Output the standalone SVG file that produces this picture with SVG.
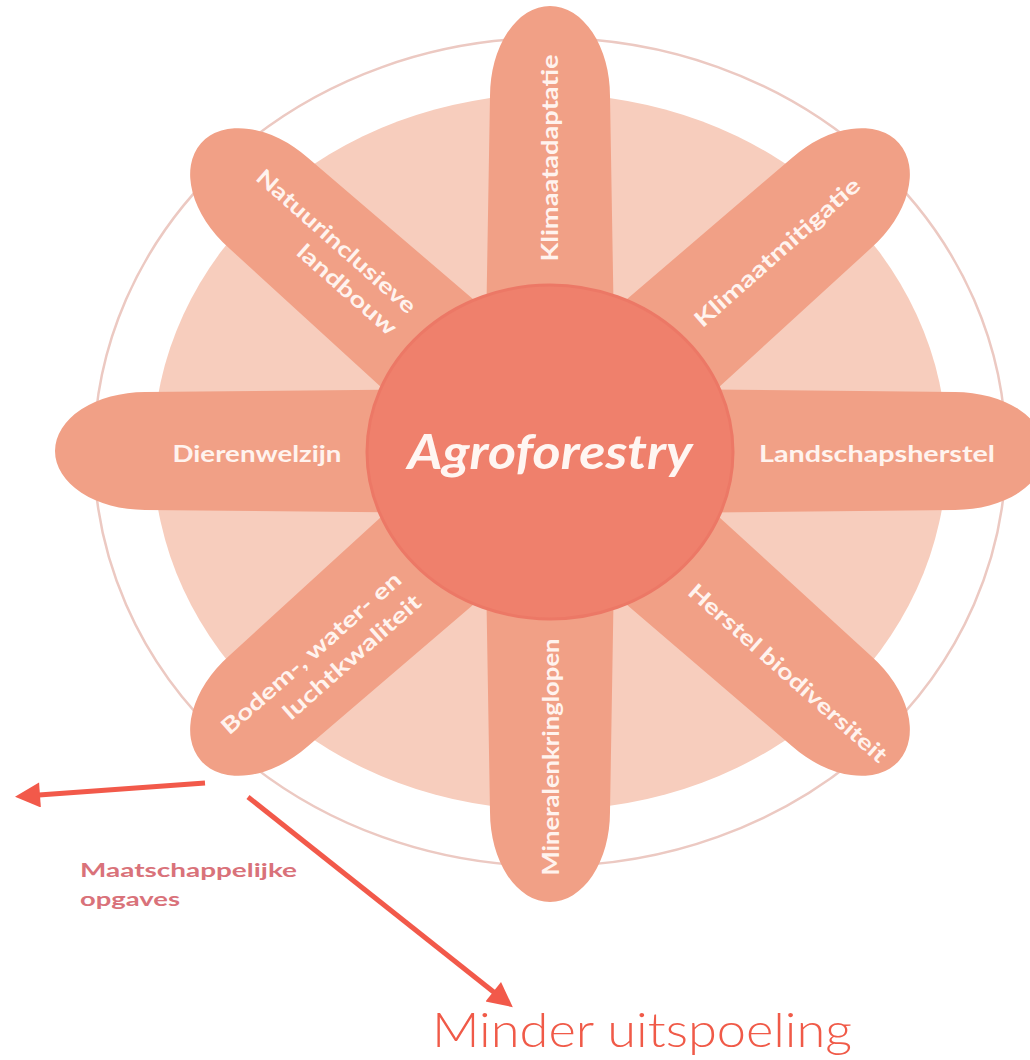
<svg xmlns="http://www.w3.org/2000/svg" width="1030" height="1060" viewBox="0 0 1030 1060">
<style>
.petal{fill:#f1a086}
.lbl{font-family:Lato,"Liberation Sans",sans-serif;font-weight:700;font-size:22px;fill:#fff3ee;text-anchor:middle}
.lbl2{font-family:Lato,"Liberation Sans",sans-serif;font-weight:700;font-size:22px;fill:#fff3ee;text-anchor:end}
.arrow{stroke:#f2594a;stroke-width:5;fill:none;marker-end:url(#ah)}
</style>
<defs>
<marker id="ah" viewBox="0 0 10 10" refX="6" refY="5" markerWidth="5.5" markerHeight="5" orient="auto" markerUnits="strokeWidth">
<path d="M0,0 L10,5 L0,10 z" fill="#f2594a"/>
</marker>
</defs>
<rect width="1030" height="1060" fill="#ffffff"/>
<g id="background">
<ellipse cx="550" cy="452" rx="456" ry="414" fill="none" stroke="#ecc9c2" stroke-width="2.5"/>
<ellipse cx="550" cy="452" rx="397" ry="358" fill="#f7cdbd"/>
</g>
<g id="petal-klimaatadaptatie">
<path class="petal" transform="translate(550,452) rotate(-90)" d="M0,-66 L356,-60 A90,60 0 0 1 356,60 L0,66 Z"/>
<text class="lbl" transform="translate(550,158) rotate(-90)" x="0" y="8" textLength="207" lengthAdjust="spacingAndGlyphs">Klimaatadaptatie</text>
</g>
<g id="petal-klimaatmitigatie">
<path class="petal" transform="translate(550,452) rotate(-41.5)" d="M0,-66 L376,-60 A90,60 0 0 1 376,60 L0,66 Z"/>
<text class="lbl" transform="translate(777,252) rotate(-41.5)" x="0" y="8" textLength="213" lengthAdjust="spacingAndGlyphs">Klimaatmitigatie</text>
</g>
<g id="petal-landschapsherstel">
<path class="petal" transform="translate(550,451)" d="M0,-63 L405,-59 A90,59 0 0 1 405,59 L0,63 Z"/>
<text class="lbl" x="877" y="462" textLength="236" lengthAdjust="spacingAndGlyphs">Landschapsherstel</text>
</g>
<g id="petal-herstel-biodiversiteit">
<path class="petal" transform="translate(550,452) rotate(41.5)" d="M0,-66 L376,-60 A90,60 0 0 1 376,60 L0,66 Z"/>
<text class="lbl" transform="translate(788,673) rotate(41.5)" x="0" y="8" textLength="257" lengthAdjust="spacingAndGlyphs">Herstel biodiversiteit</text>
</g>
<g id="petal-mineralenkringlopen">
<path class="petal" transform="translate(550,452) rotate(90)" d="M0,-66 L360,-60 A90,60 0 0 1 360,60 L0,66 Z"/>
<text class="lbl" transform="translate(551,757) rotate(-90)" x="0" y="8" textLength="237" lengthAdjust="spacingAndGlyphs">Mineralenkringlopen</text>
</g>
<g id="petal-bodem-water-lucht">
<path class="petal" transform="translate(550,452) rotate(138.5)" d="M0,-66 L376,-60 A90,60 0 0 1 376,60 L0,66 Z"/>
<text class="lbl2" transform="translate(403,582) rotate(-41.5)"><tspan x="0" y="0" textLength="232" lengthAdjust="spacingAndGlyphs">Bodem-, water- en</tspan><tspan x="0" y="30" textLength="176" lengthAdjust="spacingAndGlyphs">luchtkwaliteit</tspan></text>
</g>
<g id="petal-dierenwelzijn">
<path class="petal" transform="translate(550,451) rotate(180)" d="M0,-63 L405,-59 A90,59 0 0 1 405,59 L0,63 Z"/>
<text class="lbl" x="257" y="462" textLength="169" lengthAdjust="spacingAndGlyphs">Dierenwelzijn</text>
</g>
<g id="petal-natuurinclusieve-landbouw">
<path class="petal" transform="translate(550,452) rotate(-138.5)" d="M0,-66 L376,-60 A90,60 0 0 1 376,60 L0,66 Z"/>
<text class="lbl2" transform="translate(408,315) rotate(41.5)"><tspan x="0" y="0" textLength="205" lengthAdjust="spacingAndGlyphs">Natuurinclusieve</tspan><tspan x="0" y="29" textLength="125" lengthAdjust="spacingAndGlyphs">landbouw</tspan></text>
</g>
<g id="center-agroforestry">
<ellipse cx="550" cy="452" rx="183" ry="167" fill="#ef806c" stroke="#ec7866" stroke-width="3"/>
<text x="550" y="469" font-family="Lato,'Liberation Sans',sans-serif" font-style="italic" font-weight="700" font-size="47" fill="#fff6f2" text-anchor="middle" textLength="285" lengthAdjust="spacingAndGlyphs">Agroforestry</text>
</g>
<g id="label-maatschappelijke-opgaves">
<text font-family="Lato,'Liberation Sans',sans-serif" font-weight="700" font-size="19" fill="#d9727a"><tspan x="80" y="877" textLength="217" lengthAdjust="spacingAndGlyphs">Maatschappelijke</tspan><tspan x="80" y="906" textLength="100" lengthAdjust="spacingAndGlyphs">opgaves</tspan></text>
</g>
<g id="label-minder-uitspoeling">
<text x="432" y="1047" font-family="Lato,'Liberation Sans',sans-serif" font-weight="300" font-size="47" fill="#f05a48" textLength="420" lengthAdjust="spacingAndGlyphs">Minder uitspoeling</text>
</g>
<g id="connectors">
<line class="arrow" x1="205" y1="783" x2="25" y2="796"/>
<line class="arrow" x1="248" y1="797" x2="505" y2="1001"/>
</g>
</svg>
